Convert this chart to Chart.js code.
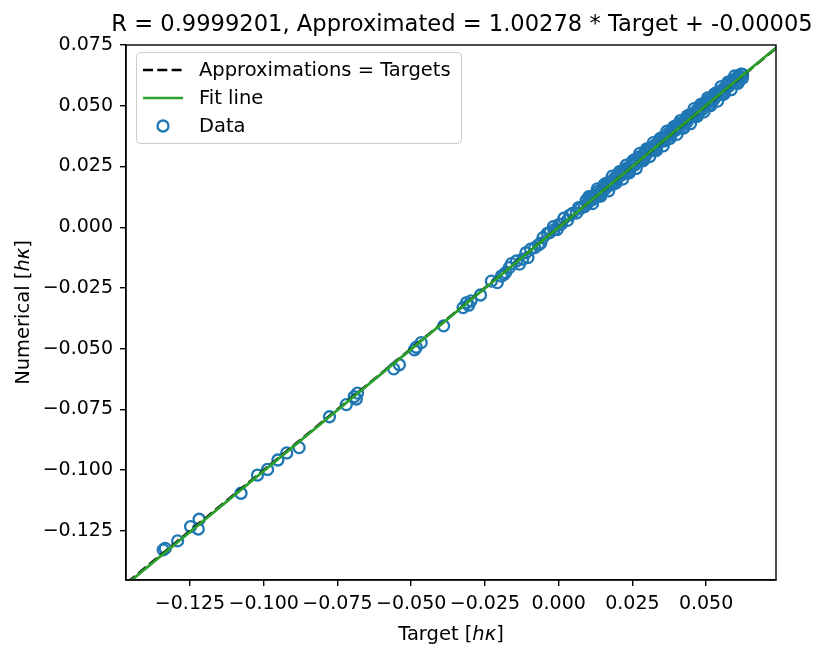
<!DOCTYPE html>
<html>
<head>
<meta charset="utf-8">
<script src="https://cdn.jsdelivr.net/npm/chart.js@4.4.1/dist/chart.umd.min.js"></script>
<style>
  html, body { margin: 0; padding: 0; background: #fff; }
  #wrap { width: 830px; height: 657px; }
</style>
</head>
<body>
<div id="wrap"><canvas id="chart" width="830" height="657"></canvas></div>
<script>
// text
const chartTitle = 'R = 0.9999201, Approximated = 1.00278 * Target + -0.00005'
const xTitle = ['Target [', 'hκ', ']']
const yTitle = ['Numerical [', 'hκ', ']']
const legendLabels = ['Approximations = Targets', 'Fit line', 'Data']

// axes
const xTicks = [-0.125, -0.100, -0.075, -0.050, -0.025, 0.000, 0.025, 0.050]
const yTicks = [-0.125, -0.100, -0.075, -0.050, -0.025, 0.000, 0.025, 0.050, 0.075]
const xRange = [-0.1467, 0.0737]
const yRange = [-0.1452, 0.075]

// fit from the title
const fitSlope = 1.00278
const fitIntercept = -0.00005

// data
const targets = [
  // sparse part
  -0.1341, -0.1334, -0.1292, -0.1248, -0.1219, -0.1222, -0.1077, -0.1021, -0.0987, -0.0952,
  -0.0922, -0.0880, -0.0777, -0.0720, -0.0686, -0.0682, -0.0693, -0.0559, -0.0540, -0.0489,
  -0.0483, -0.0466, -0.0390, -0.0324, -0.0312, -0.0297, -0.0305, -0.0265, -0.0208, -0.0194,
  -0.0180, -0.0167, -0.0133, -0.0143, -0.0104, -0.0111, -0.0081, -0.0069, -0.0053, -0.0038,
  -0.0016, -0.0018, 0.0009, 0.0018, 0.0047, 0.0075, 0.0098,
  -0.0228, -0.0186, -0.0160, -0.0122, -0.0095, -0.0061, -0.0030, -0.0005, 0.0002, 0.0030,
  0.0038, 0.0060, 0.0068, 0.0088, 0.0093,
  // dense band
  0.0104, 0.0110, 0.0117, 0.0121, 0.0128, 0.0133, 0.0139, 0.0146, 0.0150, 0.0157,
  0.0163, 0.0167, 0.0174, 0.0180, 0.0185, 0.0191, 0.0196, 0.0203, 0.0208, 0.0213,
  0.0220, 0.0226, 0.0230, 0.0237, 0.0243, 0.0248, 0.0254, 0.0259, 0.0266, 0.0271,
  0.0277, 0.0283, 0.0288, 0.0294, 0.0300, 0.0305, 0.0311, 0.0316, 0.0323, 0.0328,
  0.0334, 0.0339, 0.0345, 0.0351, 0.0357, 0.0362, 0.0368, 0.0373, 0.0380, 0.0385,
  0.0391, 0.0396, 0.0402, 0.0408, 0.0413, 0.0419, 0.0425, 0.0430, 0.0436, 0.0442,
  0.0447, 0.0453, 0.0459, 0.0464, 0.0470, 0.0476, 0.0481, 0.0487, 0.0492, 0.0498,
  0.0504, 0.0509, 0.0515, 0.0521, 0.0526, 0.0532, 0.0538, 0.0543, 0.0549, 0.0554,
  0.0560, 0.0566, 0.0571, 0.0577, 0.0582, 0.0588, 0.0594, 0.0599, 0.0604, 0.0609,
  0.0613, 0.0617, 0.0621, 0.0624,
  0.0102, 0.0115, 0.0131, 0.0143, 0.0155, 0.0170, 0.0182, 0.0194, 0.0206, 0.0217,
  0.0229, 0.0240, 0.0252, 0.0263, 0.0275, 0.0286, 0.0298, 0.0309, 0.0321, 0.0332,
  0.0344, 0.0355, 0.0367, 0.0378, 0.0390, 0.0401, 0.0413, 0.0424, 0.0436, 0.0447,
  0.0459, 0.0470, 0.0482, 0.0493, 0.0505, 0.0516, 0.0528, 0.0539, 0.0551, 0.0562,
  0.0574, 0.0585, 0.0597, 0.0608, 0.0618, 0.0623,
  0.0108, 0.0137, 0.0161, 0.0188, 0.0212, 0.0235, 0.0258, 0.0281, 0.0304, 0.0327,
  0.0350, 0.0373, 0.0396, 0.0419, 0.0442, 0.0465, 0.0488, 0.0511, 0.0534, 0.0557,
  0.0580, 0.0603
]
const numerical = [
  // sparse part
  -0.1328, -0.1322, -0.1291, -0.1232, -0.1202, -0.1242, -0.1095, -0.1020, -0.0997, -0.0958,
  -0.0929, -0.0907, -0.0780, -0.0730, -0.0707, -0.0683, -0.0697, -0.0583, -0.0566, -0.0505,
  -0.0494, -0.0475, -0.0406, -0.0331, -0.0310, -0.0303, -0.0321, -0.0279, -0.0228, -0.0201,
  -0.0187, -0.0166, -0.0152, -0.0139, -0.0125, -0.0105, -0.0084, -0.0073, -0.0043, -0.0025,
  -0.0011, 0.0002, 0.0013, 0.0037, 0.0057, 0.0078, 0.0099,
  -0.0222, -0.0195, -0.0150, -0.0131, -0.0090, -0.0066, -0.0022, -0.0010, 0.0012, 0.0028,
  0.0050, 0.0058, 0.0081, 0.0085, 0.0110,
  // dense band
  0.0107, 0.0121, 0.0115, 0.0130, 0.0129, 0.0147, 0.0136, 0.0152, 0.0162, 0.0157,
  0.0171, 0.0182, 0.0173, 0.0190, 0.0189, 0.0204, 0.0192, 0.0210, 0.0224, 0.0215,
  0.0229, 0.0223, 0.0242, 0.0242, 0.0244, 0.0262, 0.0262, 0.0257, 0.0277, 0.0288,
  0.0280, 0.0289, 0.0301, 0.0293, 0.0310, 0.0309, 0.0326, 0.0323, 0.0320, 0.0340,
  0.0336, 0.0348, 0.0361, 0.0356, 0.0355, 0.0373, 0.0374, 0.0387, 0.0380, 0.0393,
  0.0404, 0.0399, 0.0412, 0.0407, 0.0428, 0.0426, 0.0429, 0.0442, 0.0434, 0.0451,
  0.0464, 0.0458, 0.0460, 0.0475, 0.0484, 0.0479, 0.0489, 0.0484, 0.0505, 0.0504,
  0.0514, 0.0525, 0.0517, 0.0528, 0.0525, 0.0544, 0.0542, 0.0558, 0.0558, 0.0554,
  0.0571, 0.0572, 0.0585, 0.0580, 0.0590, 0.0605, 0.0595, 0.0609, 0.0609, 0.0622,
  0.0620, 0.0619, 0.0630, 0.0628,
  0.0126, 0.0097, 0.0158, 0.0128, 0.0176, 0.0150, 0.0210, 0.0182, 0.0229, 0.0198,
  0.0255, 0.0224, 0.0274, 0.0242, 0.0304, 0.0273, 0.0322, 0.0291, 0.0348, 0.0317,
  0.0365, 0.0335, 0.0395, 0.0366, 0.0413, 0.0382, 0.0439, 0.0408, 0.0458, 0.0426,
  0.0488, 0.0457, 0.0506, 0.0475, 0.0532, 0.0501, 0.0549, 0.0519, 0.0579, 0.0550,
  0.0597, 0.0566, 0.0623, 0.0592, 0.0630, 0.0613,
  0.0125, 0.0128, 0.0180, 0.0180, 0.0230, 0.0225, 0.0278, 0.0274, 0.0321, 0.0316,
  0.0369, 0.0365, 0.0417, 0.0409, 0.0460, 0.0456, 0.0508, 0.0504, 0.0553, 0.0546,
  0.0597, 0.0595
]

const FONT = 'DejaVu Sans'
const BLUE = '#1f77b4'
const GREEN = '#2ca02c'
const DASH = [10, 4.3]

const fmtTick = (v) => (v < -1e-9 ? '\u2212' : '') + Math.abs(v).toFixed(3)

// draw text pieces, middle one italic
function mixedText(ctx, parts, size) {
  const fonts = [`${size}px "${FONT}"`, `italic ${size}px "${FONT}"`, `${size}px "${FONT}"`]
  let total = 0
  const widths = parts.map((p, i) => { ctx.font = fonts[i]; const w = ctx.measureText(p).width; total += w; return w })
  let x = -total / 2
  parts.forEach((p, i) => { ctx.font = fonts[i]; ctx.fillText(p, x, 0); x += widths[i] })
}

const decorations = {
  id: 'decorations',
  afterDraw(chart) {
    const { ctx, chartArea: a } = chart
    ctx.save()
    // frame
    ctx.strokeStyle = '#000'
    ctx.lineWidth = 1.4
    ctx.strokeRect(a.left, a.top, a.right - a.left, a.bottom - a.top)

    // legend box
    const lx = 136.5, ly = 52.5, lw = 325, lh = 91
    ctx.beginPath()
    ctx.roundRect(lx, ly, lw, lh, 4)
    ctx.fillStyle = 'rgba(255,255,255,0.8)'
    ctx.fill()
    ctx.strokeStyle = '#cccccc'
    ctx.lineWidth = 1
    ctx.stroke()

    const rows = [70, 98, 126]
    ctx.lineWidth = 2.7
    ctx.strokeStyle = '#000'
    ctx.setLineDash(DASH)
    ctx.beginPath(); ctx.moveTo(143, rows[0]); ctx.lineTo(183, rows[0]); ctx.stroke()
    ctx.setLineDash([])
    ctx.strokeStyle = GREEN
    ctx.beginPath(); ctx.moveTo(143, rows[1]); ctx.lineTo(183, rows[1]); ctx.stroke()
    ctx.strokeStyle = BLUE
    ctx.lineWidth = 2.3
    ctx.beginPath(); ctx.arc(163, rows[2], 5.5, 0, Math.PI * 2); ctx.stroke()

    ctx.fillStyle = '#000'
    ctx.font = `19.5px "${FONT}"`
    ctx.textBaseline = 'middle'
    ctx.textAlign = 'left'
    legendLabels.forEach((t, i) => ctx.fillText(t, 199, rows[i] + 1))

    // title
    ctx.textBaseline = 'alphabetic'
    ctx.textAlign = 'center'
    ctx.font = `22.6px "${FONT}"`
    ctx.fillText(chartTitle, 462, 31)

    // axis titles
    ctx.textAlign = 'left'
    ctx.save()
    ctx.translate((a.left + a.right) / 2, 640)
    mixedText(ctx, xTitle, 19.5)
    ctx.restore()
    ctx.save()
    ctx.translate(29, (a.top + a.bottom) / 2)
    ctx.rotate(-Math.PI / 2)
    mixedText(ctx, yTitle, 19.5)
    ctx.restore()

    ctx.restore()
  }
}

const scatterPoints = targets.map((t, i) => ({ x: t, y: numerical[i] }))
const lineEnds = [-0.15, 0.08]

new Chart(document.getElementById('chart'), {
  type: 'scatter',
  data: {
    datasets: [
      {
        type: 'line',
        label: legendLabels[0],
        data: lineEnds.map(x => ({ x: x, y: x })),
        borderColor: '#000',
        borderWidth: 2.7,
        borderDash: DASH,
        pointRadius: 0,
        clip: 0,
        order: 1
      },
      {
        type: 'line',
        label: legendLabels[1],
        data: lineEnds.map(x => ({ x: x, y: fitSlope * x + fitIntercept })),
        borderColor: GREEN,
        borderWidth: 2.8,
        pointRadius: 0,
        clip: 0,
        order: 0
      },
      {
        label: legendLabels[2],
        data: scatterPoints,
        pointStyle: 'circle',
        pointRadius: 5.5,
        pointBorderWidth: 2.3,
        pointBackgroundColor: 'rgba(0,0,0,0)',
        pointBorderColor: BLUE,
        clip: 0,
        order: 2
      }
    ]
  },
  options: {
    responsive: false,
    animation: false,
    devicePixelRatio: 1,
    layout: { padding: { top: 45, right: 54, left: 0, bottom: 0 } },
    plugins: {
      legend: { display: false },
      title: { display: false },
      tooltip: { enabled: false }
    },
    scales: {
      x: {
        type: 'linear',
        min: xRange[0],
        max: xRange[1],
        grid: { drawOnChartArea: false, drawTicks: true, tickLength: 6, color: '#000', lineWidth: 1.4 },
        border: { display: true, color: '#000', width: 1.4 },
        ticks: { font: { family: FONT, size: 19 }, color: '#000', padding: 7, maxRotation: 0, autoSkip: false, callback: fmtTick },
        afterBuildTicks: (s) => { s.ticks = xTicks.map(v => ({ value: v })) },
        afterFit: (s) => { s.height = 77 }
      },
      y: {
        type: 'linear',
        min: yRange[0],
        max: yRange[1],
        grid: { drawOnChartArea: false, drawTicks: true, tickLength: 6, color: '#000', lineWidth: 1.4 },
        border: { display: true, color: '#000', width: 1.4 },
        ticks: { font: { family: FONT, size: 19 }, color: '#000', padding: 7, autoSkip: false, callback: fmtTick },
        afterBuildTicks: (s) => { s.ticks = yTicks.map(v => ({ value: v })) },
        afterFit: (s) => { s.width = 126 }
      }
    }
  },
  plugins: [decorations]
})
</script>
</body>
</html>
